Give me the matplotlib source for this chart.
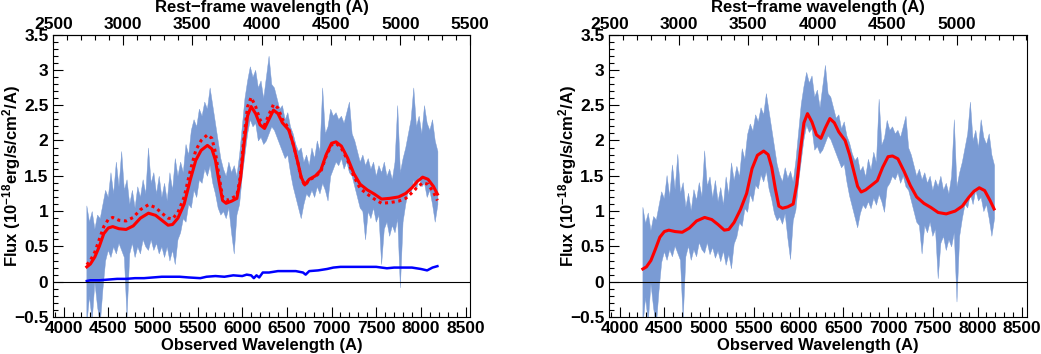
import numpy as np
import matplotlib
matplotlib.use('Agg')
import matplotlib.pyplot as plt
from matplotlib.ticker import MultipleLocator, FixedLocator, FuncFormatter

plt.rcParams['font.family'] = ['Liberation Sans', 'DejaVu Sans']
plt.rcParams['font.weight'] = 'bold'
plt.rcParams['mathtext.fontset'] = 'custom'
plt.rcParams['mathtext.rm'] = 'Liberation Sans:bold'
plt.rcParams['mathtext.bf'] = 'Liberation Sans:bold'
plt.rcParams['mathtext.default'] = 'rm'

ONE_PLUS_Z = 1.554

# spectrum sampling (observed wavelength, A)
wave = np.arange(4255, 8186, 30)

# left panel: observed spectrum band (upper / lower edge)
spec_hi = [1.08, 0.85, 1.0, 0.75, 0.95, 0.9, 1.1, 1.3, 1.2, 1.55,
           1.25, 1.7, 1.35, 1.85, 1.3, 1.45, 1.1, 1.3, 1.05, 1.35,
           1.2, 1.45, 1.25, 1.9, 1.4, 1.55, 1.25, 1.5, 1.2, 1.4,
           1.15, 1.55, 1.3, 1.75, 1.5, 1.7, 1.55, 1.95, 1.8, 2.15,
           2.3, 2.2, 2.45, 2.35, 2.55, 2.45, 2.75, 2.5, 2.25, 2.0,
           1.75, 1.6, 1.5, 1.7, 1.55, 1.65, 1.5, 1.8, 2.2, 2.6,
           2.85, 3.05, 2.9, 3.0, 2.75, 2.85, 2.6, 2.9, 3.2, 2.8,
           2.75, 2.6, 2.45, 2.5, 2.3, 2.4, 2.2, 2.1, 1.95, 1.85,
           1.9, 1.7, 1.8, 1.65, 1.9, 1.75, 2.0, 1.85, 2.75, 2.1,
           2.2, 2.45, 2.35, 2.4, 2.3, 2.35, 2.25, 2.4, 2.55, 2.1,
           2.0, 1.85, 1.7, 1.8, 1.65, 1.75, 1.6, 1.7, 1.5, 1.65,
           1.55, 1.7, 1.5, 1.6, 1.45, 1.7, 2.5, 1.55, 1.75, 1.9,
           2.1, 2.3, 2.75, 2.2, 2.35, 2.1, 2.5, 2.25, 2.15, 2.3,
           2.0, 1.85]
spec_lo = [-0.6, -0.2, -0.55, 0.0, -0.35, -0.6, -0.1, 0.3, 0.45, 0.35,
           0.5, 0.4, 0.55, 0.45, 0.35, -0.5, 0.4, 0.55, 0.35, 0.5,
           0.4, 0.6, 0.5, 0.45, 0.6, 0.45, 0.55, 0.4, 0.5, 0.35,
           0.5, 0.3, 0.45, 0.25, 0.6, 0.7, 0.9, 0.85, 1.1, 1.05,
           1.3, 1.2, 1.45, 1.4, 1.6, 1.5, 1.65, 1.4, 1.25, 1.05,
           0.95, 1.0, 0.9, 1.05, 0.7, 0.4, 0.95, 1.1, 1.5, 1.8,
           2.1, 2.3, 2.2, 2.25, 2.0, 2.05, 1.95, 2.0, 2.1, 2.2,
           2.15, 2.05, 1.95, 1.85, 1.75, 1.8, 1.55, 1.35, 1.2, 1.05,
           0.9, 1.1, 1.25, 1.2, 1.3, 1.2, 1.35, 1.25, 1.4, 1.3,
           1.15, 1.5, 1.6, 1.7, 1.65, 1.75, 1.6, 1.7, 1.55, 1.5,
           1.35, 1.2, 1.05, 1.0, 0.6, 1.0, 0.9, 1.05, 0.85, 0.95,
           0.25, 0.75, 0.85, 0.65, 0.8, 0.7, 0.9, -0.08, 0.85, 1.1,
           1.3, 1.25, 1.45, 1.3, 1.5, 1.35, 1.4, 1.2, 1.3, 1.1,
           0.85, 1.1]

# right panel: host-subtracted spectrum band
sub_hi = [1.06, 0.83, 0.98, 0.73, 0.93, 0.88, 1.08, 1.28, 1.18, 1.51,
          1.21, 1.66, 1.31, 1.81, 1.26, 1.41, 1.06, 1.26, 1.01, 1.31,
          1.16, 1.41, 1.21, 1.86, 1.36, 1.49, 1.19, 1.44, 1.14, 1.34,
          1.09, 1.49, 1.24, 1.69, 1.44, 1.64, 1.49, 1.89, 1.74, 2.09,
          2.24, 2.14, 2.37, 2.27, 2.47, 2.37, 2.67, 2.42, 2.17, 1.92,
          1.67, 1.52, 1.42, 1.62, 1.47, 1.57, 1.42, 1.72, 2.12, 2.52,
          2.77, 2.97, 2.82, 2.92, 2.62, 2.72, 2.47, 2.77, 3.07, 2.67,
          2.62, 2.47, 2.32, 2.37, 2.17, 2.27, 2.07, 1.97, 1.82, 1.72,
          1.77, 1.57, 1.64, 1.49, 1.74, 1.59, 1.84, 1.69, 2.59, 1.94,
          2.04, 2.29, 2.15, 2.2, 2.1, 2.15, 2.05, 2.2, 2.35, 1.9,
          1.8, 1.65, 1.5, 1.6, 1.45, 1.55, 1.4, 1.5, 1.3, 1.45,
          1.35, 1.5, 1.3, 1.4, 1.25, 1.5, 2.3, 1.35, 1.55, 1.7,
          1.9, 2.1, 2.55, 2.0, 2.15, 1.9, 2.3, 2.05, 1.95, 2.1,
          1.8, 1.65]
sub_lo = [-0.62, -0.22, -0.57, -0.02, -0.37, -0.62, -0.12, 0.28, 0.43, 0.31,
          0.46, 0.36, 0.51, 0.41, 0.31, -0.54, 0.36, 0.51, 0.31, 0.46,
          0.36, 0.56, 0.46, 0.41, 0.56, 0.39, 0.49, 0.34, 0.44, 0.29,
          0.44, 0.24, 0.39, 0.19, 0.54, 0.64, 0.84, 0.79, 1.04, 0.99,
          1.24, 1.14, 1.37, 1.32, 1.52, 1.42, 1.57, 1.32, 1.17, 0.97,
          0.87, 0.92, 0.82, 0.97, 0.62, 0.32, 0.87, 1.02, 1.42, 1.72,
          2.02, 2.22, 2.12, 2.17, 1.87, 1.92, 1.82, 1.87, 1.97, 2.07,
          2.02, 1.92, 1.82, 1.72, 1.62, 1.67, 1.42, 1.22, 1.07, 0.92,
          0.77, 0.97, 1.09, 1.04, 1.14, 1.04, 1.19, 1.09, 1.24, 1.14,
          0.99, 1.34, 1.4, 1.5, 1.45, 1.55, 1.4, 1.5, 1.35, 1.3,
          1.15, 1.0, 0.85, 0.8, 0.4, 0.8, 0.7, 0.85, 0.65, 0.75,
          0.05, 0.55, 0.65, 0.45, 0.6, 0.5, 0.7, -0.28, 0.65, 0.9,
          1.1, 1.05, 1.25, 1.1, 1.3, 1.15, 1.2, 1.0, 1.1, 0.9,
          0.65, 0.9]

# model fits
fit_wave = [4260, 4300, 4350, 4400, 4450, 4500, 4550, 4620, 4700, 4780,
            4860, 4950, 5030, 5100, 5170, 5220, 5280, 5350, 5420, 5480,
            5540, 5610, 5660, 5700, 5740, 5780, 5820, 5880, 5940, 5980,
            6020, 6060, 6100, 6150, 6200, 6250, 6300, 6350, 6400, 6450,
            6520, 6570, 6620, 6660, 6700, 6750, 6820, 6880, 6940, 7000,
            7050, 7110, 7180, 7250, 7320, 7400, 7480, 7560, 7650, 7750,
            7830, 7900, 7960, 8020, 8080, 8140, 8185]
fit_total = [0.21, 0.25, 0.35, 0.5, 0.68, 0.76, 0.78, 0.75, 0.74, 0.79,
             0.9, 0.97, 0.94, 0.87, 0.8, 0.81, 0.9, 1.1, 1.45, 1.72,
             1.86, 1.93, 1.88, 1.72, 1.42, 1.15, 1.11, 1.14, 1.18, 1.45,
             1.95, 2.35, 2.48, 2.38, 2.22, 2.17, 2.3, 2.43, 2.38, 2.25,
             2.15, 1.95, 1.7, 1.48, 1.37, 1.45, 1.5, 1.58, 1.8, 1.96,
             1.98, 1.92, 1.75, 1.53, 1.38, 1.3, 1.24, 1.17, 1.18, 1.2,
             1.25, 1.33, 1.42, 1.48, 1.45, 1.35, 1.24]
fit_alt = [0.24, 0.3, 0.42, 0.6, 0.78, 0.88, 0.91, 0.87, 0.86, 0.91,
           1.02, 1.09, 1.05, 0.97, 0.9, 0.89, 0.98, 1.2, 1.58, 1.86,
           2.0, 2.08, 2.03, 1.83, 1.5, 1.2, 1.15, 1.18, 1.22, 1.5,
           2.05, 2.48, 2.61, 2.48, 2.29, 2.22, 2.37, 2.51, 2.46, 2.3,
           2.17, 1.95, 1.7, 1.47, 1.36, 1.44, 1.49, 1.56, 1.78, 1.94,
           1.96, 1.89, 1.72, 1.49, 1.32, 1.24, 1.17, 1.11, 1.12, 1.14,
           1.18, 1.26, 1.34, 1.4, 1.38, 1.27, 1.15]
fit_sub = [0.18, 0.21, 0.3, 0.46, 0.63, 0.71, 0.73, 0.71, 0.7, 0.76,
           0.86, 0.91, 0.88, 0.81, 0.73, 0.74, 0.84, 1.02, 1.25, 1.6,
           1.79, 1.85, 1.8, 1.62, 1.32, 1.07, 1.04, 1.06, 1.1, 1.38,
           1.85, 2.25, 2.38, 2.26, 2.08, 2.03, 2.18, 2.31, 2.25, 2.12,
           2.0, 1.8, 1.55, 1.35, 1.27, 1.3, 1.37, 1.43, 1.62, 1.77,
           1.78, 1.74, 1.56, 1.36, 1.2, 1.11, 1.05, 0.98, 0.96, 1.0,
           1.07, 1.19, 1.28, 1.33, 1.29, 1.15, 1.03]

# host galaxy contribution
host_wave = [4260, 4300, 4400, 4500, 4600, 4700, 4800, 4900, 5000, 5100,
             5200, 5300, 5400, 5530, 5600, 5700, 5800, 5900, 6000, 6050,
             6100, 6130, 6160, 6190, 6230, 6300, 6400, 6500, 6600, 6680,
             6710, 6750, 6850, 6950, 7020, 7100, 7300, 7500, 7620, 7700,
             7800, 7900, 8000, 8070, 8130, 8185]
host_flux = [0.01, 0.02, 0.02, 0.03, 0.04, 0.04, 0.05, 0.05, 0.06, 0.07,
             0.07, 0.07, 0.06, 0.05, 0.07, 0.08, 0.07, 0.09, 0.08, 0.1,
             0.09, 0.05, 0.09, 0.06, 0.13, 0.13, 0.15, 0.15, 0.15, 0.13,
             0.1, 0.15, 0.16, 0.18, 0.2, 0.21, 0.21, 0.21, 0.19, 0.2,
             0.2, 0.2, 0.18, 0.16, 0.2, 0.22]

top_ticks_left = [2500, 3000, 3500, 4000, 4500, 5000, 5500]
top_ticks_right = [2500, 3000, 3500, 4000, 4500, 5000]

band_color = '#7a9bd4'
TICK_FONT = dict(family=['Liberation Sans Narrow', 'Liberation Sans'],
                 weight='bold', size=12.5)


def fmt(v, pos):
    return f'{v:g}'.replace('-', '\u2212')


def style_axes(ax, top_ticks):
    ax.set_xlim(3885, 8550)
    ax.set_ylim(-0.5, 3.5)
    ax.axhline(0, color='black', lw=0.8, zorder=3)
    ax.xaxis.set_major_locator(MultipleLocator(500))
    ax.xaxis.set_minor_locator(MultipleLocator(100))
    ax.yaxis.set_major_locator(MultipleLocator(0.5))
    ax.yaxis.set_minor_locator(MultipleLocator(0.1))
    ax.yaxis.set_major_formatter(FuncFormatter(fmt))
    ax.tick_params(which='both', direction='in', width=0.8)
    ax.tick_params(which='major', length=7)
    ax.tick_params(which='minor', length=3.5)
    ax.tick_params(axis='x', pad=3)
    ax.tick_params(axis='y', pad=3.5)
    for s in ax.spines.values():
        s.set_linewidth(0.8)
    ax.set_xlabel('Observed Wavelength (A)', fontsize=12, fontweight='bold', va='center')
    ax.xaxis.set_label_coords(0.5, -0.102)
    ax.set_ylabel('Flux (10$^{\u221218}$erg/s/cm$^{2}$/A)', fontsize=12,
                  fontweight='bold', va='center')
    ax.yaxis.set_label_coords(-0.099, 0.5)

    sec = ax.secondary_xaxis('top', functions=(lambda x: x / ONE_PLUS_Z,
                                                 lambda x: x * ONE_PLUS_Z))
    sec.xaxis.set_major_locator(FixedLocator(top_ticks))
    sec.xaxis.set_minor_locator(MultipleLocator(100))
    sec.tick_params(which='both', direction='in', width=0.8, pad=2)
    sec.tick_params(which='major', length=7)
    sec.tick_params(which='minor', length=3.5)
    sec.set_xlabel('Rest\u2212frame wavelength (A)', fontsize=12, fontweight='bold',
                   va='center')
    sec.xaxis.set_label_coords(0.5, 1.097, transform=ax.transAxes)
    ax.figure.canvas.draw()
    for lab in ax.get_xticklabels() + ax.get_yticklabels() + sec.get_xticklabels():
        lab.set_fontproperties(TICK_FONT)


fig = plt.figure(figsize=(10.41, 3.54), dpi=100)
ax1 = fig.add_axes([0.0512, 0.1045, 0.4003, 0.798])
ax2 = fig.add_axes([0.5853, 0.1045, 0.4010, 0.798])

# left: spectrum with two model fits and host
ax1.fill_between(wave, spec_lo, spec_hi, color=band_color, lw=0.3, edgecolor=band_color)
ax1.plot(fit_wave, fit_alt, color='red', lw=2.2, ls=(0, (1, 1.2)))
ax1.plot(fit_wave, fit_total, color='red', lw=2.2)
ax1.plot(host_wave, host_flux, color='blue', lw=1.8)
style_axes(ax1, top_ticks_left)

# right: host-subtracted spectrum
ax2.fill_between(wave, sub_lo, sub_hi, color=band_color, lw=0.3, edgecolor=band_color)
ax2.plot(fit_wave, fit_sub, color='red', lw=2.2)
style_axes(ax2, top_ticks_right)

fig.savefig('out.png', dpi=100)
